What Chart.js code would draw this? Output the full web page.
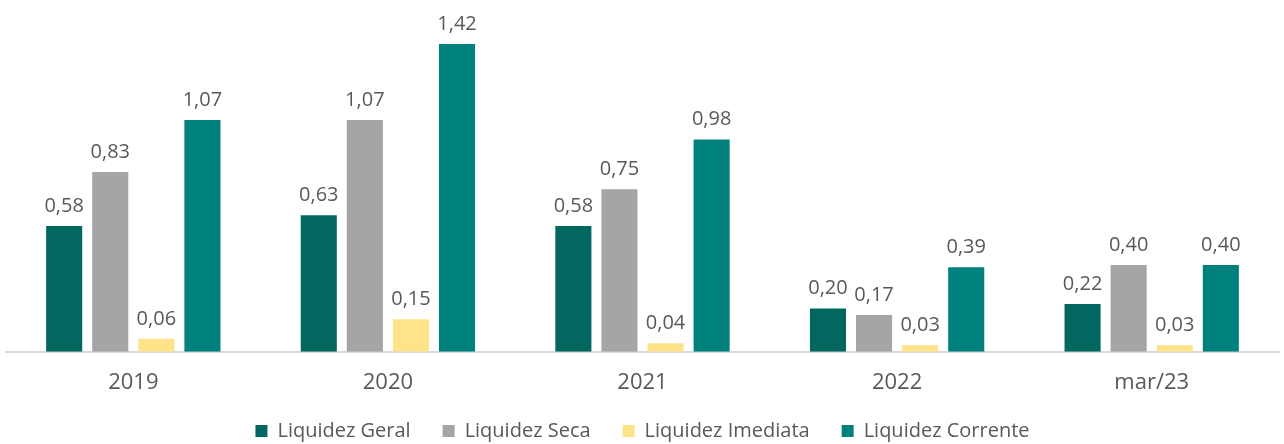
<!DOCTYPE html>
<html>
<head>
<meta charset="utf-8">
<script src="https://cdn.jsdelivr.net/npm/chart.js@4"></script>
<style>
  html, body { margin: 0; padding: 0; background: #fff; }
  #wrap { width: 1284px; height: 444px; }
</style>
</head>
<body>
<div id="wrap"><canvas id="chart"></canvas></div>
<script>
// categorias e valores
const categories = ['2019', '2020', '2021', '2022', 'mar/23'];
const liquidezGeral = [0.58, 0.63, 0.58, 0.20, 0.22];
const liquidezSeca = [0.83, 1.07, 0.75, 0.17, 0.40];
const liquidezImediata = [0.06, 0.15, 0.04, 0.03, 0.03];
const liquidezCorrente = [1.07, 1.42, 0.98, 0.39, 0.40];

const textColor = '#595959';
const fontFamily = '"Open Sans", "Lato", sans-serif';

// desenha os valores em cima das barras
const valueLabels = {
  id: 'valueLabels',
  afterDatasetsDraw(chart) {
    const ctx = chart.ctx;
    ctx.save();
    ctx.fillStyle = textColor;
    ctx.font = '20px ' + fontFamily;
    ctx.textAlign = 'center';
    ctx.textBaseline = 'alphabetic';
    chart.data.datasets.forEach((ds, i) => {
      chart.getDatasetMeta(i).data.forEach((bar, j) => {
        ctx.fillText(ds.data[j].toFixed(2).replace('.', ','), bar.x, bar.y - 14);
      });
    });
    ctx.restore();
  }
};

const ctx = document.getElementById('chart').getContext('2d');
new Chart(ctx, {
  type: 'bar',
  data: {
    labels: categories,
    datasets: [
      { label: 'Liquidez Geral', data: liquidezGeral, backgroundColor: '#02675F' },
      { label: 'Liquidez Seca', data: liquidezSeca, backgroundColor: '#A5A5A5' },
      { label: 'Liquidez Imediata', data: liquidezImediata, backgroundColor: '#FFE38A' },
      { label: 'Liquidez Corrente', data: liquidezCorrente, backgroundColor: '#00817E' }
    ]
  },
  options: {
    responsive: true,
    maintainAspectRatio: false,
    animation: false,
    layout: {
      padding: { left: 6, right: 5, top: 5, bottom: -7 }
    },
    datasets: {
      bar: {
        categoryPercentage: 0.724,
        barPercentage: 0.783
      }
    },
    scales: {
      x: {
        // grade escondida, tickLength só serve de espaço até o rótulo
        grid: { display: false, drawTicks: true, tickLength: 24 },
        border: { display: true, color: '#D9D9D9', width: 2 },
        ticks: {
          color: textColor,
          font: { family: fontFamily, size: 22, lineHeight: 0.6 },
          padding: 0
        }
      },
      y: {
        display: false,
        min: 0,
        max: 1.6
      }
    },
    plugins: {
      legend: {
        position: 'bottom',
        labels: {
          color: textColor,
          font: { family: fontFamily, size: 20 },
          boxWidth: 12,
          boxHeight: 12,
          padding: 32
        }
      },
      tooltip: { enabled: false }
    }
  },
  plugins: [valueLabels]
});
</script>
</body>
</html>
